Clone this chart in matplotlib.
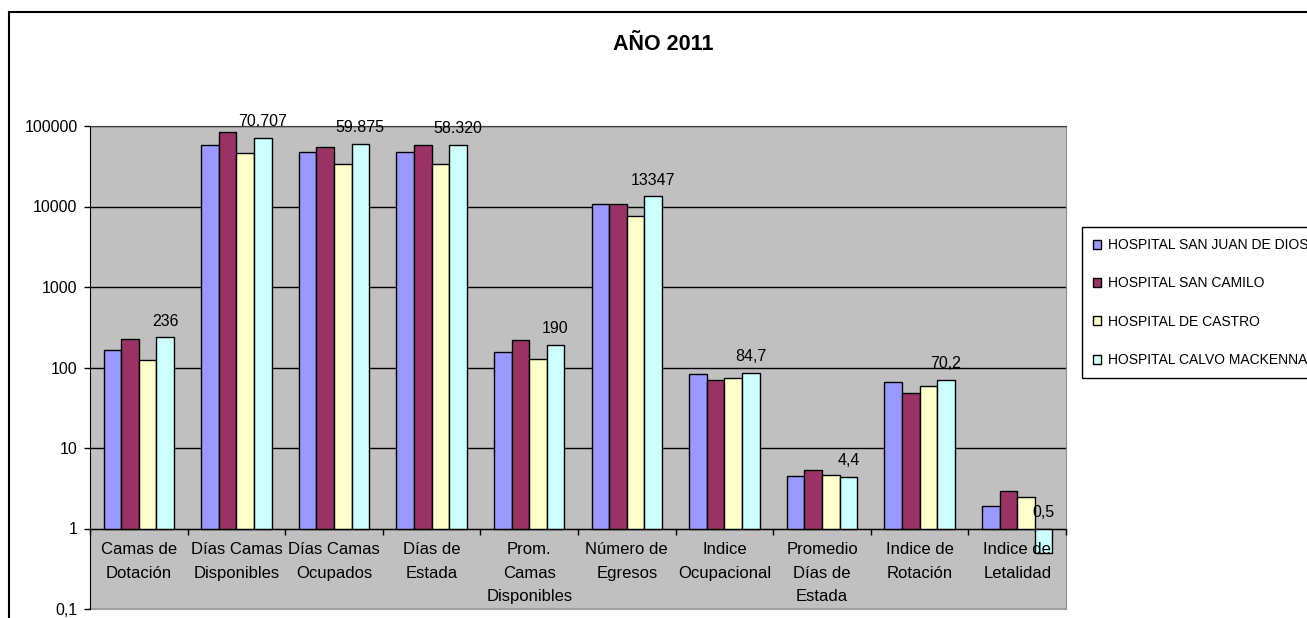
import matplotlib
matplotlib.use("Agg")
import matplotlib.pyplot as plt
import numpy as np
from matplotlib.lines import Line2D
from matplotlib.ticker import NullLocator

plt.rcParams['font.family'] = ['Liberation Sans', 'DejaVu Sans']

categories = ['Camas de\nDotación', 'Días Camas\nDisponibles', 'Días Camas\nOcupados',
              'Días de\nEstada', 'Prom.\nCamas\nDisponibles', 'Número de\nEgresos',
              'Indice\nOcupacional', 'Promedio\nDías de\nEstada', 'Indice de\nRotación',
              'Indice de\nLetalidad']
hospitals = ['HOSPITAL SAN JUAN DE DIOS', 'HOSPITAL SAN CAMILO',
             'HOSPITAL DE CASTRO', 'HOSPITAL CALVO MACKENNA']

san_juan = [164, 57700, 48200, 48200, 158, 10600, 83.5, 4.47, 67, 1.88]
san_camilo = [229, 84700, 55600, 57700, 221, 10600, 69.5, 5.4, 48, 2.94]
castro = [125, 46500, 34200, 34200, 126, 7580, 74.5, 4.65, 59.7, 2.45]
calvo = [236, 70707, 59875, 58320, 190, 13347, 84.7, 4.4, 70.2, 0.5]
calvo_labels = ['236', '70.707', '59.875', '58.320', '190', '13347',
                '84,7', '4,4', '70,2', '0,5']

y_ticks = [0.1, 1, 10, 100, 1000, 10000, 100000]
y_labels = ['0,1', '1', '10', '100', '1000', '10000', '100000']

colors = ['#9999FF', '#993366', '#FFFFCC', '#CCFFFF']

W, H = 1307, 618
fig = plt.figure(figsize=(W / 100, H / 100), dpi=100)
ax = fig.add_axes([90 / W, 1 - 609 / H, (1066 - 90) / W, (609 - 126) / H])
ax.set_facecolor('#C0C0C0')
ax.set_yscale('log')
ax.spines['bottom'].set_position(('data', 1))  # category axis crosses at 1
ax.spines['bottom'].set_zorder(4)
ax.set_axisbelow(False)  # category labels drawn over the bars

# horizontal gridlines (not at 0,1)
for t in y_ticks[1:]:
    ax.axhline(t, color='black', linewidth=1, zorder=1)

x = np.arange(len(categories))
w = 0.18
series = [san_juan, san_camilo, castro, calvo]
for i, (vals, c, name) in enumerate(zip(series, colors, hospitals)):
    vals = np.array(vals, dtype=float)
    ax.bar(x + (i - 1.5) * w, vals - 1, bottom=1, width=w, color=c,
           edgecolor='black', linewidth=1, label=name, zorder=2)

# data labels for the last series
for xi, v, lab in zip(x + 1.5 * w, calvo, calvo_labels):
    ax.annotate(lab, (xi, max(v, 1)), xytext=(0, 8.5), textcoords='offset points',
                ha='center', va='baseline', fontsize=11.5)

ax.set_ylim(0.1, 100000)
ax.set_xlim(-0.5, len(categories) - 0.5)
ax.set_yticks(y_ticks)
ax.set_yticklabels(y_labels)
ax.yaxis.set_minor_locator(NullLocator())
ax.tick_params(axis='y', direction='out', length=4, width=1, pad=5, labelsize=11.5)

ax.set_xticks(x)
ax.set_xticklabels(categories, fontsize=12, linespacing=1.7)
ax.set_xticks(np.arange(-0.5, len(categories)), minor=True)
ax.tick_params(axis='x', which='major', length=0, pad=10)
ax.tick_params(axis='x', which='minor', length=4, width=1, direction='out')

ax.spines['left'].set_color('black')
ax.spines['right'].set_color('#909090')
ax.spines['top'].set_color('#404040')
ax.axhline(0.1, color='#A0A0A0', linewidth=1.5, clip_on=False, zorder=1)

fig.text(663 / W, 1 - 45 / H, 'AÑO 2011', ha='center', va='center',
         fontsize=15.5, fontweight='bold')

leg = ax.legend(loc='upper left', bbox_to_anchor=(1082 / W, 1 - 227 / H),
                bbox_transform=fig.transFigure, borderaxespad=0, fontsize=10,
                handlelength=0.6, handleheight=0.6, handletextpad=0.45,
                labelspacing=1.75, borderpad=0.8, fancybox=False,
                edgecolor='black', framealpha=1)
leg.get_frame().set_linewidth(1)

# outer chart border (left and top)
fig.add_artist(Line2D([9 / W, 9 / W], [0, 1 - 12 / H], color='black', linewidth=1.5))
fig.add_artist(Line2D([9 / W, 1], [1 - 12 / H, 1 - 12 / H], color='black', linewidth=1.5))

fig.savefig('out.png', dpi=100)
